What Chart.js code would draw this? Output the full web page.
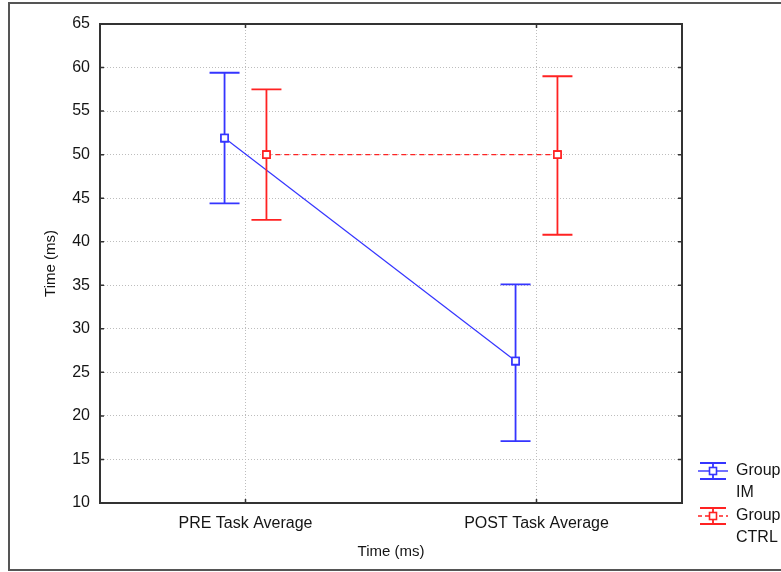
<!DOCTYPE html>
<html>
<head>
<meta charset="utf-8">
<script src="https://cdn.jsdelivr.net/npm/chart.js@4.4.0/dist/chart.umd.min.js"></script>
<style>
  html, body { margin: 0; padding: 0; background: #fff; }
  #wrap { width: 781px; height: 572px; }
</style>
</head>
<body>
<div id="wrap"><canvas id="myChart" width="781" height="572"></canvas></div>
<script>
const categories = ['PRE Task Average', 'POST Task Average'];
const imMean = [51.9, 26.3];
const imLow = [44.4, 17.1];
const imHigh = [59.4, 35.1];
const ctrlMean = [50.0, 50.0];
const ctrlLow = [42.5, 40.8];
const ctrlHigh = [57.5, 59.0];
const yTicks = [10, 15, 20, 25, 30, 35, 40, 45, 50, 55, 60, 65];

const BLUE = '#3535ff';
const RED = '#ff2222';
const TEXT = '#151515';
const FONT = 'Liberation Sans, Arial, sans-serif';
const shift = 0.072;

function catX(i, dir) { return i + 0.5 + dir * shift; }

const errorBars = {
  id: 'errorBars',
  beforeDraw(chart) {
    const c = chart.ctx;
    c.save();
    c.fillStyle = '#fff';
    c.fillRect(0, 0, chart.width, chart.height);
    c.strokeStyle = '#555';
    c.lineWidth = 2;
    c.strokeRect(9, 3, chart.width + 20, chart.height - 5);
    c.restore();
  },
  afterDatasetsDraw(chart) {
    const c = chart.ctx;
    const xs = chart.scales.x, ys = chart.scales.y;
    const groups = [[imLow, imHigh, BLUE, -1], [ctrlLow, ctrlHigh, RED, 1]];
    c.save();
    c.lineWidth = 1.8;
    groups.forEach(([lo, hi, col, dir]) => {
      c.strokeStyle = col;
      lo.forEach((v, i) => {
        const x = xs.getPixelForValue(catX(i, dir));
        const y1 = ys.getPixelForValue(v), y2 = ys.getPixelForValue(hi[i]);
        c.beginPath();
        c.moveTo(x, y1); c.lineTo(x, y2);
        c.moveTo(x - 15, y1); c.lineTo(x + 15, y1);
        c.moveTo(x - 15, y2); c.lineTo(x + 15, y2);
        c.stroke();
      });
    });
    c.restore();
    // redraw markers on top of the bars
    chart.data.datasets.forEach((d, i) => {
      chart.getDatasetMeta(i).data.forEach(p => p.draw(c, chart.chartArea));
    });
  },
  afterDraw(chart) {
    const c = chart.ctx;
    const a = chart.chartArea;
    const xs = chart.scales.x, ys = chart.scales.y;
    c.save();
    // frame
    c.strokeStyle = '#333';
    c.lineWidth = 2;
    c.strokeRect(a.left, a.top, a.right - a.left, a.bottom - a.top);
    // inward tick marks
    c.lineWidth = 1.5;
    c.beginPath();
    yTicks.forEach(v => {
      const y = ys.getPixelForValue(v);
      c.moveTo(a.left, y); c.lineTo(a.left + 4, y);
      c.moveTo(a.right, y); c.lineTo(a.right - 4, y);
    });
    categories.forEach((_, i) => {
      const x = xs.getPixelForValue(i + 0.5);
      c.moveTo(x, a.bottom); c.lineTo(x, a.bottom - 4);
      c.moveTo(x, a.top); c.lineTo(x, a.top + 4);
    });
    c.stroke();

    // axis titles
    c.fillStyle = TEXT;
    c.font = '15px ' + FONT;
    c.textAlign = 'center';
    c.textBaseline = 'middle';
    c.fillText('Time (ms)', (a.left + a.right) / 2, 552);
    c.translate(51, (a.top + a.bottom) / 2);
    c.rotate(-Math.PI / 2);
    c.fillText('Time (ms)', 0, 0);
    c.setTransform(1, 0, 0, 1, 0, 0);

    // legend
    const items = [[BLUE, [], 'IM', 471], [RED, [4, 3], 'CTRL', 516]];
    items.forEach(([col, dash, name, cy]) => {
      const x0 = 698, x1 = 728, xm = 713;
      c.strokeStyle = col;
      c.lineWidth = 1.8;
      c.setLineDash([]);
      c.beginPath();
      c.moveTo(x0 + 2, cy - 8); c.lineTo(x1 - 2, cy - 8);
      c.moveTo(x0 + 2, cy + 8); c.lineTo(x1 - 2, cy + 8);
      c.moveTo(xm, cy - 8); c.lineTo(xm, cy + 8);
      c.stroke();
      c.lineWidth = 1.4;
      c.setLineDash(dash);
      c.beginPath();
      c.moveTo(x0, cy); c.lineTo(x1, cy);
      c.stroke();
      c.setLineDash([]);
      c.fillStyle = '#fff';
      c.fillRect(xm - 3.5, cy - 3.5, 7, 7);
      c.lineWidth = 1.6;
      c.strokeRect(xm - 3.5, cy - 3.5, 7, 7);
      c.fillStyle = TEXT;
      c.font = '16px ' + FONT;
      c.textAlign = 'left';
      c.textBaseline = 'middle';
      c.fillText('Group', 736, cy);
      c.fillText(name, 736, cy + 22);
    });
    c.restore();
  }
};

const ctx = document.getElementById('myChart').getContext('2d');
const myChart = new Chart(ctx, {
  type: 'line',
  data: {
    datasets: [{
      label: 'Group IM',
      data: imMean.map((v, i) => ({ x: catX(i, -1), y: v })),
      borderColor: BLUE,
      borderWidth: 1.2,
      pointStyle: 'rect',
      pointRadius: 5,
      pointBorderWidth: 1.6,
      pointBackgroundColor: '#fff',
      pointBorderColor: BLUE
    }, {
      label: 'Group CTRL',
      data: ctrlMean.map((v, i) => ({ x: catX(i, 1), y: v })),
      borderColor: RED,
      borderWidth: 1.2,
      borderDash: [5, 4],
      pointStyle: 'rect',
      pointRadius: 5,
      pointBorderWidth: 1.6,
      pointBackgroundColor: '#fff',
      pointBorderColor: RED
    }]
  },
  options: {
    responsive: false,
    animation: false,
    layout: { padding: { top: 24, right: 99, left: 0, bottom: 0 } },
    plugins: { legend: { display: false }, tooltip: { enabled: false } },
    scales: {
      x: {
        type: 'linear',
        min: 0,
        max: 2,
        afterBuildTicks(scale) { scale.ticks = categories.map((_, i) => ({ value: i + 0.5 })); },
        afterFit(scale) { scale.height = 69; },
        ticks: {
          padding: 11,
          color: TEXT,
          font: { family: FONT, size: 16 },
          maxRotation: 0,
          callback: (v) => categories[Math.round(v - 0.5)]
        },
        grid: { color: '#bdbdbd', lineWidth: 1, drawTicks: false },
        border: { display: true, color: '#333', width: 2, dash: [1, 2] }
      },
      y: {
        min: 10,
        max: 65,
        afterBuildTicks(scale) { scale.ticks = yTicks.map(v => ({ value: v })); },
        afterFit(scale) { scale.width = 100; },
        ticks: {
          padding: 10,
          color: TEXT,
          font: { family: FONT, size: 16 }
        },
        grid: { color: '#bdbdbd', lineWidth: 1, drawTicks: false },
        border: { display: true, color: '#333', width: 2, dash: [1, 2] }
      }
    }
  },
  plugins: [errorBars]
});
</script>
</body>
</html>
